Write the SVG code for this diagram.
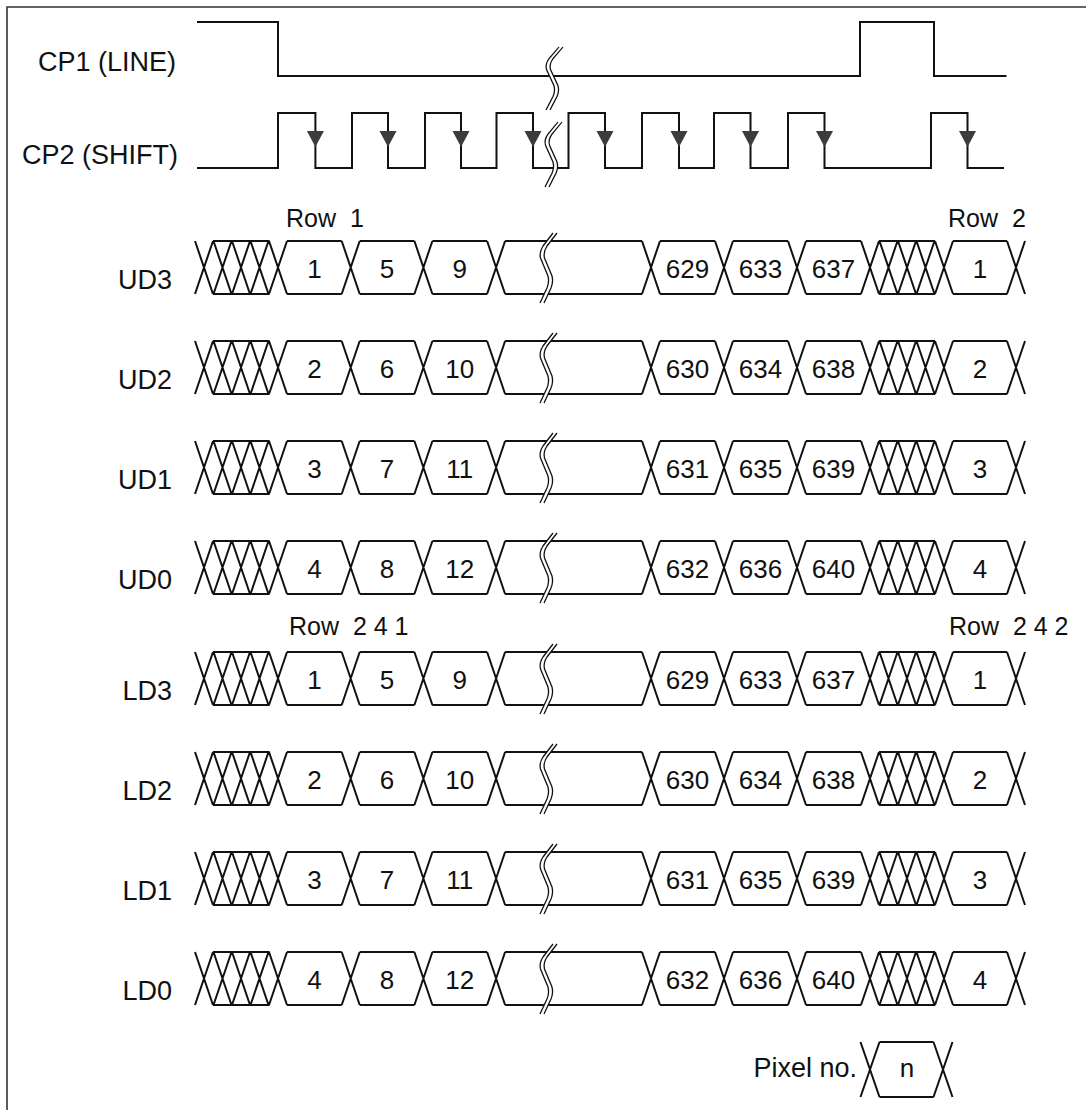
<svg xmlns="http://www.w3.org/2000/svg" xmlns:xlink="http://www.w3.org/1999/xlink" width="1086" height="1110" viewBox="0 0 1086 1110">
<style>
  .sig { fill: none; stroke: #111; stroke-width: 2; stroke-linejoin: miter; }
  .frame { fill: none; stroke: #333; stroke-width: 1.6; }
  .arr { fill: #3c3c3c; stroke: none; }
  .lbl { font-family: "Liberation Sans", Arial, sans-serif; font-size: 27px; fill: #111; text-anchor: end; }
  .num { font-family: "Liberation Sans", Arial, sans-serif; font-size: 26px; fill: #111; text-anchor: middle; }
  .row { font-family: "Liberation Sans", Arial, sans-serif; font-size: 25px; fill: #111; white-space: pre; }
  .brkfill { fill: #fff; stroke: none; }
  .brkline { fill: none; stroke: #111; stroke-width: 1.3; }
</style>
<defs>
  <g id="brk">
    <path class="brkfill" d="M0,0 L-10,13 Q-14,19 -12.5,25 L-5,43 Q-3.5,49 -6,55 L-13,70 L-9,70 L-2,55 Q0.5,49 -1,43 L-8.5,25 Q-10,19 -6,13 L4,0 Z"/>
    <path class="brkline" d="M0,0 L-10,13 Q-14,19 -12.5,25 L-5,43 Q-3.5,49 -6,55 L-13,70 M4,0 L-6,13 Q-10,19 -8.5,25 L-1,43 Q0.5,49 -2,55 L-9,70"/>
  </g>
  <path id="rowshape" class="sig" d="M213,0H269.5 M287,0H341.7 M359.7,0H414.4 M432.4,0H487.1 M505.1,0H642 M660,0H715 M733,0H788 M806,0H861 M879,0H935 M953,0H1007
  M213,53H269.5 M287,53H341.7 M359.7,53H414.4 M432.4,53H487.1 M505.1,53H642 M660,53H715 M733,53H788 M806,53H861 M879,53H935 M953,53H1007
  M195,0L213,53M195,53L213,0
  M213.5,0L231.5,53M213.5,53L231.5,0
  M232,0L250,53M232,53L250,0
  M250.5,0L268.5,53M250.5,53L268.5,0
  M269,0L287,53M269,53L287,0
  M341.7,0L359.7,53M341.7,53L359.7,0
  M414.4,0L432.4,53M414.4,53L432.4,0
  M487.1,0L505.1,53M487.1,53L505.1,0
  M642,0L660,53M642,53L660,0
  M715,0L733,53M715,53L733,0
  M788,0L806,53M788,53L806,0
  M861,0L879,53M861,53L879,0
  M879.5,0L897.5,53M879.5,53L897.5,0
  M898,0L916,53M898,53L916,0
  M916.5,0L934.5,53M916.5,53L934.5,0
  M935,0L953,53M935,53L953,0
  M1007,0L1025,53M1007,53L1025,0"/>
</defs>

<g id="frame">
  <path class="frame" d="M7,1110 V7 H1086"/>
</g>

<g id="cp1">
  <text class="lbl" x="176" y="71">CP1 (LINE)</text>
  <path class="sig" d="M197,22 H278 V76 H860 V22 H934 V76 H1006.5"/>
  <use xlink:href="#brk" href="#brk" transform="translate(559,47) scale(1,0.9)"/>
</g>

<g id="cp2">
  <text class="lbl" x="178" y="164">CP2 (SHIFT)</text>
  <path class="sig" d="M197,168 H278 V113 H315.4 V168 H352 V113 H388 V168 H425 V113 H461 V168 H496.5 V113 H533 V168 H568.5 V113 H605 V168 H642 V113 H679 V168 H714 V113 H750.5 V168 H788 V113 H824.5 V168 H931 V113 H967.5 V168 H1004"/>
  <g>
    <polygon class="arr" points="306.9,131 323.9,131 315.4,147"/>
    <polygon class="arr" points="379.5,131 396.5,131 388,147"/>
    <polygon class="arr" points="452.5,131 469.5,131 461,147"/>
    <polygon class="arr" points="524.5,131 541.5,131 533,147"/>
    <polygon class="arr" points="596.5,131 613.5,131 605,147"/>
    <polygon class="arr" points="670.5,131 687.5,131 679,147"/>
    <polygon class="arr" points="742,131 759,131 750.5,147"/>
    <polygon class="arr" points="816,131 833,131 824.5,147"/>
    <polygon class="arr" points="959,131 976,131 967.5,147"/>
  </g>
  <use xlink:href="#brk" href="#brk" transform="translate(558,122) scale(1,0.93)"/>
</g>

<g id="row-labels">
  <text class="row" x="286" y="227">Row  1</text>
  <text class="row" x="948" y="227">Row  2</text>
  <text class="row" x="289" y="635">Row  2 4 1</text>
  <text class="row" x="949" y="635">Row  2 4 2</text>
</g>

<g id="ud3" transform="translate(0,241)">
  <use xlink:href="#rowshape" href="#rowshape"/>
  <use xlink:href="#brk" href="#brk" x="553" y="-8"/>
  <text class="lbl" x="172" y="48">UD3</text>
  <text class="num" x="314.4" y="37">1</text><text class="num" x="387.1" y="37">5</text><text class="num" x="459.8" y="37">9</text>
  <text class="num" x="687.5" y="37">629</text><text class="num" x="760.5" y="37">633</text><text class="num" x="833.5" y="37">637</text><text class="num" x="980" y="37">1</text>
</g>
<g id="ud2" transform="translate(0,341)">
  <use xlink:href="#rowshape" href="#rowshape"/>
  <use xlink:href="#brk" href="#brk" x="553" y="-8"/>
  <text class="lbl" x="172" y="48">UD2</text>
  <text class="num" x="314.4" y="37">2</text><text class="num" x="387.1" y="37">6</text><text class="num" x="459.8" y="37">10</text>
  <text class="num" x="687.5" y="37">630</text><text class="num" x="760.5" y="37">634</text><text class="num" x="833.5" y="37">638</text><text class="num" x="980" y="37">2</text>
</g>
<g id="ud1" transform="translate(0,441)">
  <use xlink:href="#rowshape" href="#rowshape"/>
  <use xlink:href="#brk" href="#brk" x="553" y="-8"/>
  <text class="lbl" x="172" y="48">UD1</text>
  <text class="num" x="314.4" y="37">3</text><text class="num" x="387.1" y="37">7</text><text class="num" x="459.8" y="37">11</text>
  <text class="num" x="687.5" y="37">631</text><text class="num" x="760.5" y="37">635</text><text class="num" x="833.5" y="37">639</text><text class="num" x="980" y="37">3</text>
</g>
<g id="ud0" transform="translate(0,541)">
  <use xlink:href="#rowshape" href="#rowshape"/>
  <use xlink:href="#brk" href="#brk" x="553" y="-8"/>
  <text class="lbl" x="172" y="48">UD0</text>
  <text class="num" x="314.4" y="37">4</text><text class="num" x="387.1" y="37">8</text><text class="num" x="459.8" y="37">12</text>
  <text class="num" x="687.5" y="37">632</text><text class="num" x="760.5" y="37">636</text><text class="num" x="833.5" y="37">640</text><text class="num" x="980" y="37">4</text>
</g>
<g id="ld3" transform="translate(0,652)">
  <use xlink:href="#rowshape" href="#rowshape"/>
  <use xlink:href="#brk" href="#brk" x="553" y="-8"/>
  <text class="lbl" x="172" y="48">LD3</text>
  <text class="num" x="314.4" y="37">1</text><text class="num" x="387.1" y="37">5</text><text class="num" x="459.8" y="37">9</text>
  <text class="num" x="687.5" y="37">629</text><text class="num" x="760.5" y="37">633</text><text class="num" x="833.5" y="37">637</text><text class="num" x="980" y="37">1</text>
</g>
<g id="ld2" transform="translate(0,752)">
  <use xlink:href="#rowshape" href="#rowshape"/>
  <use xlink:href="#brk" href="#brk" x="553" y="-8"/>
  <text class="lbl" x="172" y="48">LD2</text>
  <text class="num" x="314.4" y="37">2</text><text class="num" x="387.1" y="37">6</text><text class="num" x="459.8" y="37">10</text>
  <text class="num" x="687.5" y="37">630</text><text class="num" x="760.5" y="37">634</text><text class="num" x="833.5" y="37">638</text><text class="num" x="980" y="37">2</text>
</g>
<g id="ld1" transform="translate(0,852)">
  <use xlink:href="#rowshape" href="#rowshape"/>
  <use xlink:href="#brk" href="#brk" x="553" y="-8"/>
  <text class="lbl" x="172" y="48">LD1</text>
  <text class="num" x="314.4" y="37">3</text><text class="num" x="387.1" y="37">7</text><text class="num" x="459.8" y="37">11</text>
  <text class="num" x="687.5" y="37">631</text><text class="num" x="760.5" y="37">635</text><text class="num" x="833.5" y="37">639</text><text class="num" x="980" y="37">3</text>
</g>
<g id="ld0" transform="translate(0,952)">
  <use xlink:href="#rowshape" href="#rowshape"/>
  <use xlink:href="#brk" href="#brk" x="553" y="-8"/>
  <text class="lbl" x="172" y="48">LD0</text>
  <text class="num" x="314.4" y="37">4</text><text class="num" x="387.1" y="37">8</text><text class="num" x="459.8" y="37">12</text>
  <text class="num" x="687.5" y="37">632</text><text class="num" x="760.5" y="37">636</text><text class="num" x="833.5" y="37">640</text><text class="num" x="980" y="37">4</text>
</g>

<g id="legend">
  <text class="lbl" x="857" y="1077">Pixel no.</text>
  <path class="sig" d="M860.5,1042 L879.5,1097 M860.5,1097 L879.5,1042 M879.5,1042 H933.5 M879.5,1097 H933.5 M933.5,1042 L952.5,1097 M933.5,1097 L952.5,1042"/>
  <text class="num" x="907" y="1077">n</text>
</g>
</svg>
